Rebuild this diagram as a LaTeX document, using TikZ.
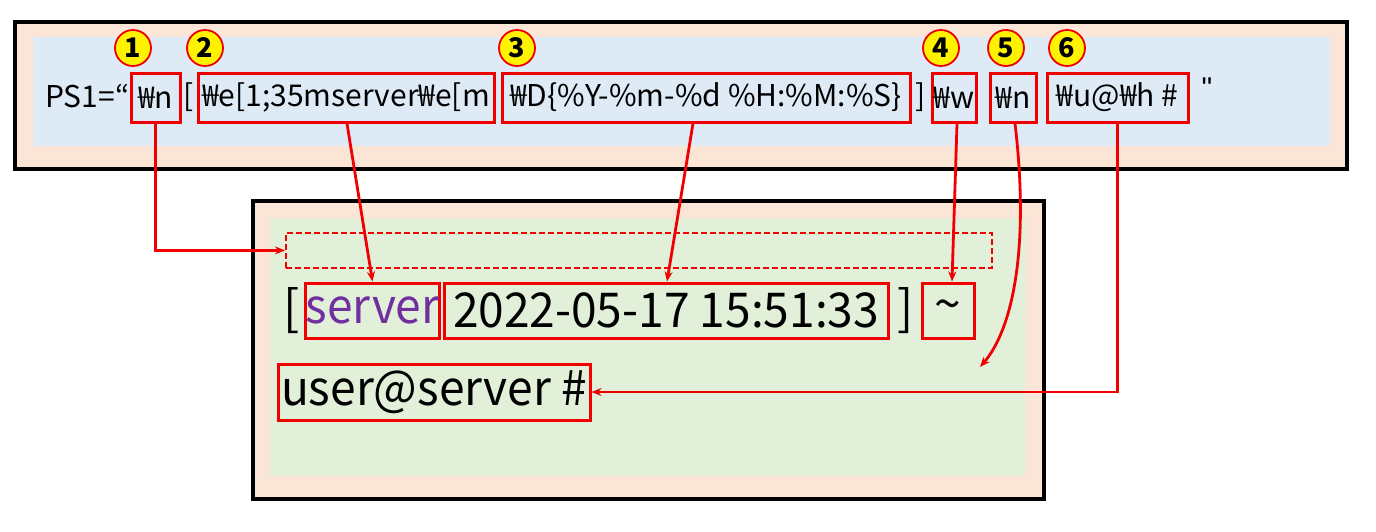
\documentclass[tikz,border=0pt]{standalone}
\usepackage{fontspec}
\setmainfont{Noto Sans CJK KR}
\newfontfamily\qf{Liberation Sans}
\usetikzlibrary{arrows.meta}
\definecolor{peach}{HTML}{FBE5D6}
\definecolor{lblue}{HTML}{DEEBF7}
\definecolor{lgreen}{HTML}{E2F0D9}
\definecolor{pred}{HTML}{F00000}
\definecolor{purp}{HTML}{7030A0}
\begin{document}
\begin{tikzpicture}[x=1pt,y=-1pt,
  outerbox/.style={draw=black,line width=3.5pt,fill=peach},
  redbox/.style={draw=pred,line width=3pt,inner sep=0pt,minimum height=49pt},
  redbox2/.style={draw=pred,line width=3pt,inner sep=0pt,minimum height=55pt},
  toptxt/.style={font=\fontsize{30}{36}\selectfont,inner sep=0pt},
  bottxt/.style={font=\fontsize{48}{52}\selectfont,inner sep=0pt},
  numc/.style={circle,draw=pred,line width=1.8pt,fill=yellow,minimum size=36pt,inner sep=0pt,font=\fontsize{27}{28}\selectfont\bfseries},
  arr/.style={draw=pred,line width=2.8pt,-{Stealth[length=10pt,width=8pt]}}
]
\useasboundingbox (0,0) rectangle (1376,531);
% top panel
\node[outerbox,minimum width=1332pt,minimum height=147pt,anchor=north west,inner sep=0pt] (topouter) at (13,20) {};
\node[fill=lblue,minimum width=1297pt,minimum height=109pt,anchor=north west,inner sep=0pt] (topinner) at (33,37) {};
% top free text
\node[toptxt,anchor=west] (ps) at (45,96) {PS1=“};
\node[toptxt] (lb1) at (189,97) {[};
\node[toptxt] (rb1) at (921,97) {]};
\node[toptxt] (q) at (1207,88) {\qf "};
% red boxes top
\node[redbox,toptxt,minimum width=49pt] (b1) at (155.5,97.5) {₩n};
\node[redbox,toptxt,minimum width=296pt] (b2) at (346,97.5) {₩e[1;35mserver₩e[m};
\node[redbox,toptxt,minimum width=408pt] (b3) at (706,97.5) {₩D\{\%Y-\%m-\%d \%H:\%M:\%S\}};
\node[redbox,toptxt,minimum width=44pt] (b4) at (954,97.5) {₩w};
\node[redbox,toptxt,minimum width=46pt] (b5) at (1013,97.5) {₩n};
\node[redbox,toptxt,minimum width=141pt] (b6) at (1117.5,97.5) {₩u@₩h \#};
% number circles
\node[numc] (c1) at (133,48) {1};
\node[numc] (c2) at (205,48) {2};
\node[numc] (c3) at (517,48) {3};
\node[numc] (c4) at (941,48) {4};
\node[numc] (c5) at (1006,48) {5};
\node[numc] (c6) at (1067,48) {6};
% bottom panel
\node[outerbox,minimum width=791pt,minimum height=298pt,anchor=north west,inner sep=0pt] (botouter) at (251,199) {};
\node[fill=lgreen,minimum width=755pt,minimum height=258pt,anchor=north west,inner sep=0pt] (botinner) at (270,218) {};
\node[draw=pred,line width=1.8pt,dash pattern=on 6pt off 3pt,minimum width=706pt,minimum height=35pt,anchor=north west,inner sep=0pt] (dash) at (285,232) {};
\node[bottxt] (lb2) at (292,311) {[};
\node[bottxt] (rb2) at (906,311) {]};
\node[redbox2,bottxt,minimum width=129pt,text=purp] (srv) at (372.5,310.5) {\scalebox{0.96}[1]{server}};
\node[redbox2,bottxt,minimum width=444pt] (date) at (666,310.5) {\scalebox{0.96}[1]{2022-05-17 15:51:33}};
\node[redbox2,bottxt,minimum width=52pt] (tilde) at (948,310.5) {\raisebox{-4pt}{\textasciitilde}};
\node[redbox2,bottxt,minimum width=312pt,minimum height=56pt] (user) at (434,392) {\scalebox{0.96}[1]{user@server \#}};
\coordinate (nl) at (980,367);
% arrows
\draw[arr] (b1.south) |- (dash.west);
\draw[arr] ([xshift=1pt]b2.south) -- (srv.north);
\draw[arr] ([xshift=-13pt]b3.south) -- ([xshift=1pt]date.north);
\draw[arr] ([xshift=3pt]b4.south) -- ([xshift=4pt]tilde.north);
\draw[arr] ([xshift=2pt]b5.south) .. controls (1030,250) and (1012,330) .. (nl);
\draw[arr] (b6.south) |- (user.east);
\end{tikzpicture}
\end{document}
